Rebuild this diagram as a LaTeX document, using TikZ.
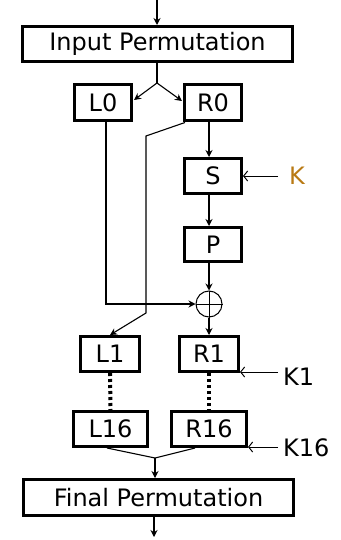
\documentclass[tikz,border=0pt]{standalone}
\usepackage{fontspec}
\setmainfont{DejaVu Sans}
\usetikzlibrary{arrows.meta}
\definecolor{kbrown}{RGB}{185,122,20}
\begin{document}
\begin{tikzpicture}[x=1pt,y=-1pt,
 box/.style={draw,line width=3pt,inner sep=0pt,font=\fontsize{24}{24}\selectfont},
 conn/.style={line width=1.1pt},
 arr/.style={conn,-{Stealth[length=7pt,width=7pt]}},
 karr/.style={line width=1pt,-{Straight Barb[length=4pt,width=10pt]}},
 dots/.style={line width=4pt,dash pattern=on 3pt off 3pt},
 lbl/.style={font=\fontsize{24}{24}\selectfont,inner sep=0pt}]
\useasboundingbox (0,0) rectangle (340,540);
% boxes
\node[box,minimum width=270pt,minimum height=35pt] (ip) at (157.5,44) {Input Permutation};
\node[box,minimum width=57pt,minimum height=36pt] (L0) at (103,102.5) {L0};
\node[box,minimum width=57pt,minimum height=36pt] (R0) at (213,102.5) {R0};
\node[box,minimum width=57pt,minimum height=35pt] (S) at (213,176) {S};
\node[box,minimum width=57pt,minimum height=34pt] (P) at (213,244.5) {P};
\node[draw,circle,line width=1pt,minimum size=26pt,inner sep=0pt] (xor) at (209,304) {};
\draw[line width=1pt] (xor.north) -- (xor.south) (xor.west) -- (xor.east);
\node[box,minimum width=59pt,minimum height=35pt] (L1) at (110,354) {L1};
\node[box,minimum width=59pt,minimum height=35pt] (R1) at (209,354) {R1};
\node[box,minimum width=74pt,minimum height=35pt] (L16) at (110.5,429) {L16};
\node[box,minimum width=75pt,minimum height=35pt] (R16) at (209,429) {R16};
\node[box,minimum width=270pt,minimum height=36pt] (fp) at (158.5,497.5) {Final Permutation};
% labels
\node[lbl,text=kbrown,anchor=west] (K) at (289,176) {K};
\node[lbl,anchor=west] (K1) at (283,377) {K1};
\node[lbl,anchor=west] (K16) at (283,448) {K16};
% coordinates
\coordinate (top) at (157,0);
\coordinate (split) at (157,83);
\coordinate (l0in) at (134,100);
\coordinate (r0in) at (182,101);
\coordinate (rx) at (209,0);
\coordinate (lx) at (106,0);
\coordinate (c1) at (185,122.5);
\coordinate (c2) at (146,136);
\coordinate (c3) at (146,313);
\coordinate (k1a) at (278,372);
\coordinate (k16a) at (278,447);
\coordinate (lm) at (107,0);
\coordinate (rm) at (195,0);
\coordinate (merge) at (155,458);
\coordinate (bx) at (154,0);
\coordinate (bend) at (154,537);
% connectors
\draw[arr] (top) -- (ip.north -| top);
\draw[conn] (ip.south -| split) -- (split);
\draw[arr] (split) -- (l0in);
\draw[arr] (split) -- (r0in);
\draw[arr] (L0.south -| lx) |- (xor.west);
\draw[arr] (c1) -- (c2) -- (c3) -- (L1.north);
\draw[arr] (R0.south -| rx) -- (S.north -| rx);
\draw[arr] (S.south -| rx) -- (P.north -| rx);
\draw[arr] (P.south -| rx) -- (xor.north);
\draw[arr] (xor.south) -- (R1.north);
\draw[karr] ([xshift=-11pt]K.west) -- (S.east);
\draw[karr] (k1a) -- (k1a -| R1.east);
\draw[karr] (k16a) -- (k16a -| R16.east);
\draw[dots] (L1.south) -- (L16.north);
\draw[dots] (R1.south) -- (R16.north);
\draw[conn] (L16.south -| lm) -- (merge);
\draw[conn] (R16.south -| rm) -- (merge);
\draw[arr] (merge) -- (fp.north -| merge);
\draw[arr] (fp.south -| bx) -- (bend);
\end{tikzpicture}
\end{document}
